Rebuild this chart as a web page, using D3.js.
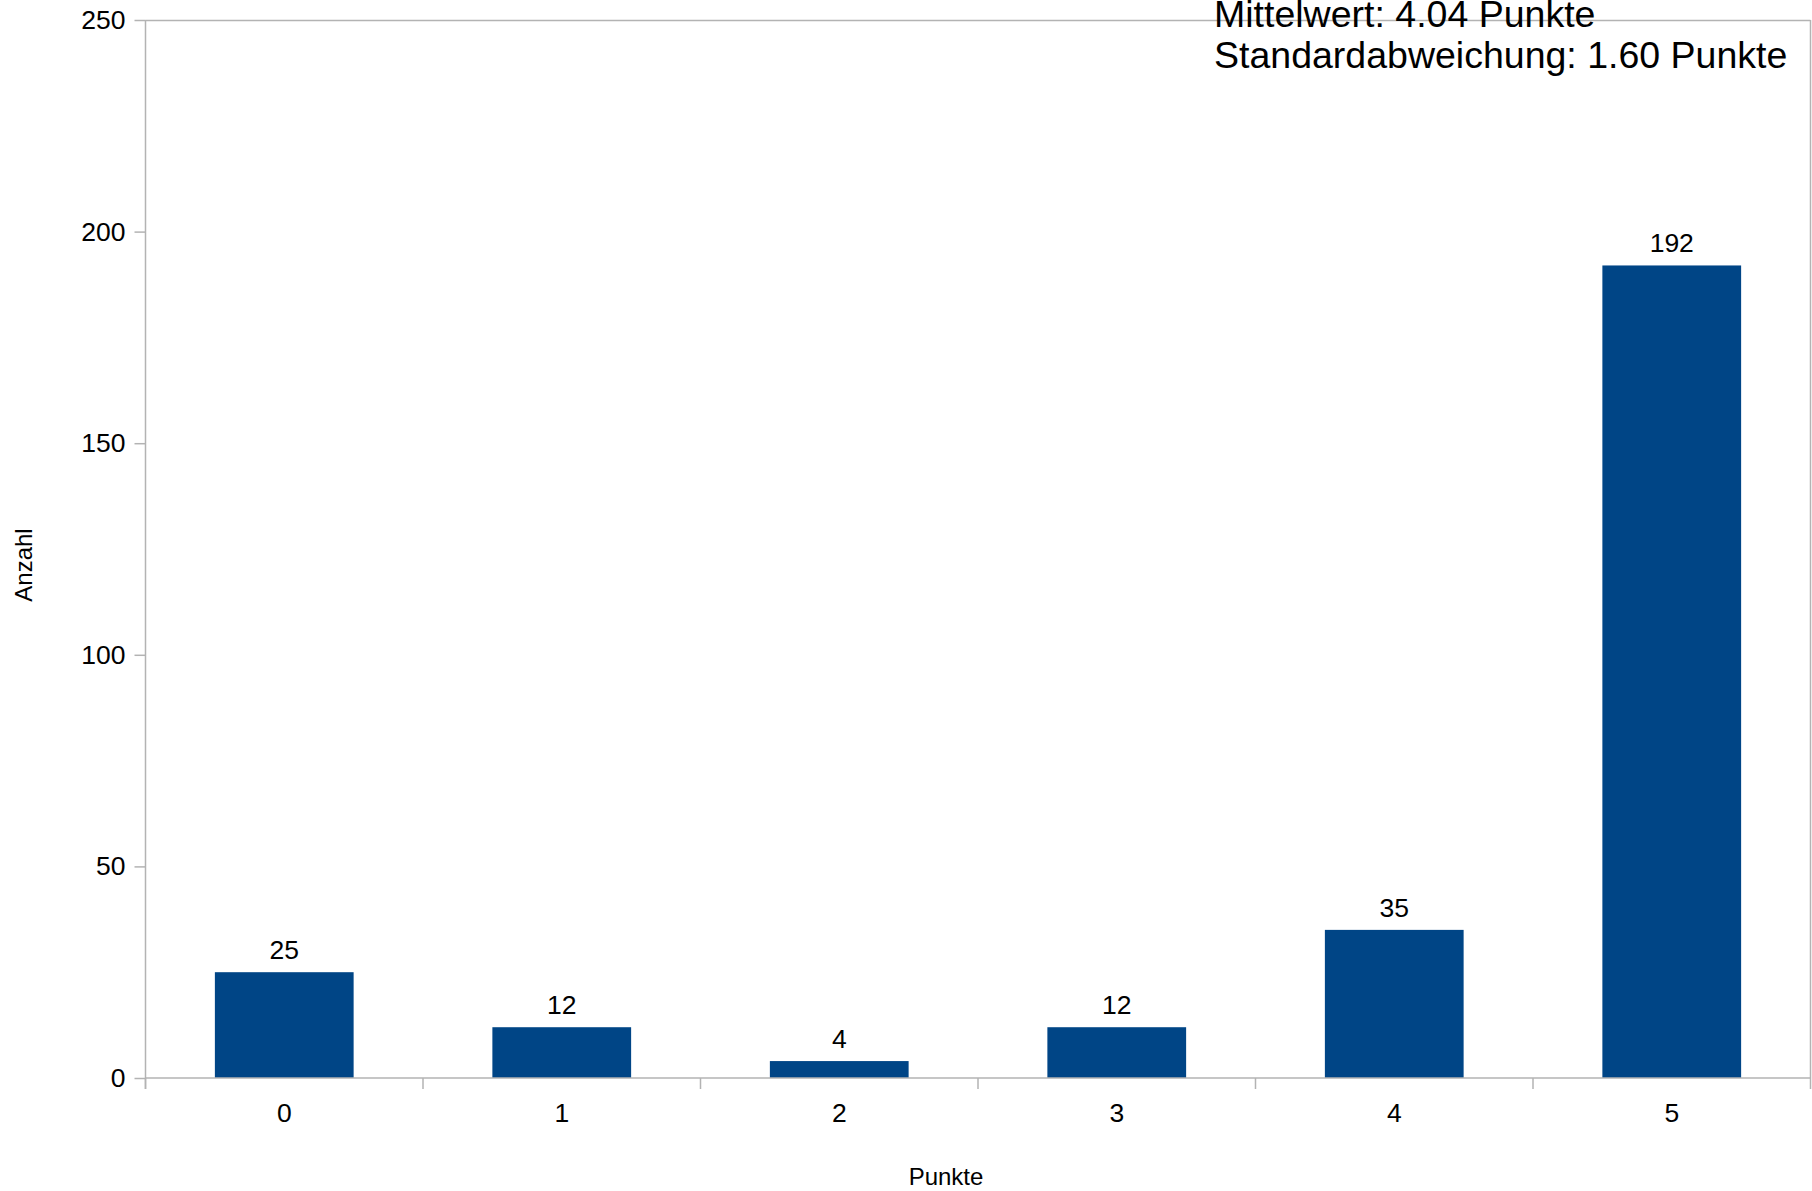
<!DOCTYPE html>
<html>
<head>
<meta charset="utf-8">
<script src="https://cdn.jsdelivr.net/npm/d3@7"></script>
<style>
  html, body { margin: 0; padding: 0; background: #fff; }
  svg { display: block; font-family: "Liberation Sans", Arial, sans-serif; }
</style>
</head>
<body>
<svg id="chart" width="1812" height="1191"></svg>
<script>
const categories = ["0", "1", "2", "3", "4", "5"];
const counts = [25, 12, 4, 12, 35, 192];
const yTicks = [0, 50, 100, 150, 200, 250];
const annotationLines = ["Mittelwert: 4.04 Punkte", "Standardabweichung: 1.60 Punkte"];
const xTitle = "Punkte";
const yTitle = "Anzahl";

const svg = d3.select("#chart");
const margin = { left: 145.5, right: 1.5, top: 20, bottom: 113 };
const W = 1812, H = 1191;
const x0 = margin.left, x1 = W - margin.right, yTop = margin.top, yBot = H - margin.bottom;

const x = d3.scaleBand().domain(categories).range([x0, x1]).paddingInner(0.5).paddingOuter(0.25);
const xb = d3.scaleBand().domain(categories).range([x0, x1]).padding(0);
const y = d3.scaleLinear().domain([0, 250]).range([yBot, yTop]);

const axisColor = "#b3b3b3";

// plot border (top and right)
svg.append("line").attr("x1", x0).attr("x2", x1).attr("y1", yTop + 0.5).attr("y2", yTop + 0.5)
  .attr("stroke", axisColor).attr("stroke-width", 1.5);
svg.append("line").attr("x1", x1).attr("x2", x1).attr("y1", yTop).attr("y2", yBot)
  .attr("stroke", axisColor).attr("stroke-width", 1.5);

// bars
svg.append("g").selectAll("rect").data(counts).join("rect")
  .attr("x", (d, i) => x(categories[i]))
  .attr("width", x.bandwidth())
  .attr("y", d => y(d))
  .attr("height", d => y(0) - y(d))
  .attr("fill", "#004586");

// y axis
const yAxis = d3.axisLeft(y).tickValues(yTicks).tickSize(11).tickPadding(9);
const gy = svg.append("g").attr("transform", `translate(${x0},0)`).call(yAxis);
gy.select(".domain").attr("stroke", axisColor).attr("stroke-width", 1.5)
  .attr("d", `M0,${yTop}V${yBot + 11}`);
gy.selectAll(".tick line").attr("stroke", axisColor).attr("stroke-width", 1.5);
gy.selectAll(".tick text").attr("fill", "#000").attr("font-size", 26.5)
  .attr("font-family", "Liberation Sans, Arial, sans-serif");

// x axis
const gx = svg.append("g").attr("transform", `translate(0,${yBot})`);
gx.append("line").attr("x1", x0).attr("x2", x1).attr("y1", 0).attr("y2", 0)
  .attr("stroke", axisColor).attr("stroke-width", 1.5);
const boundaries = categories.map(c => xb(c)).concat([x1]);
gx.selectAll("line.tk").data(boundaries).join("line").attr("class", "tk")
  .attr("x1", d => d).attr("x2", d => d).attr("y1", 0).attr("y2", 11)
  .attr("stroke", axisColor).attr("stroke-width", 1.5);
gx.selectAll("text").data(categories).join("text")
  .attr("x", d => xb(d) + xb.bandwidth() / 2)
  .attr("y", 44)
  .attr("text-anchor", "middle")
  .attr("font-size", 26.5)
  .attr("fill", "#000")
  .text(d => d);

// value labels
svg.append("g").selectAll("text").data(counts).join("text")
  .attr("x", (d, i) => x(categories[i]) + x.bandwidth() / 2)
  .attr("y", d => y(d) - 13)
  .attr("text-anchor", "middle")
  .attr("font-size", 26.5)
  .attr("fill", "#000")
  .text(d => d);

// axis titles
svg.append("text").attr("x", 946).attr("y", 1185).attr("text-anchor", "middle")
  .attr("font-size", 24).attr("fill", "#000").text(xTitle);
svg.append("text").attr("transform", "translate(32,565) rotate(-90)").attr("text-anchor", "middle")
  .attr("font-size", 24).attr("fill", "#000").text(yTitle);

// annotation
svg.append("g").selectAll("text").data(annotationLines).join("text")
  .attr("x", 1214)
  .attr("y", (d, i) => 27 + i * 41)
  .attr("font-size", 37.5)
  .attr("fill", "#000")
  .text(d => d);
</script>
</body>
</html>
